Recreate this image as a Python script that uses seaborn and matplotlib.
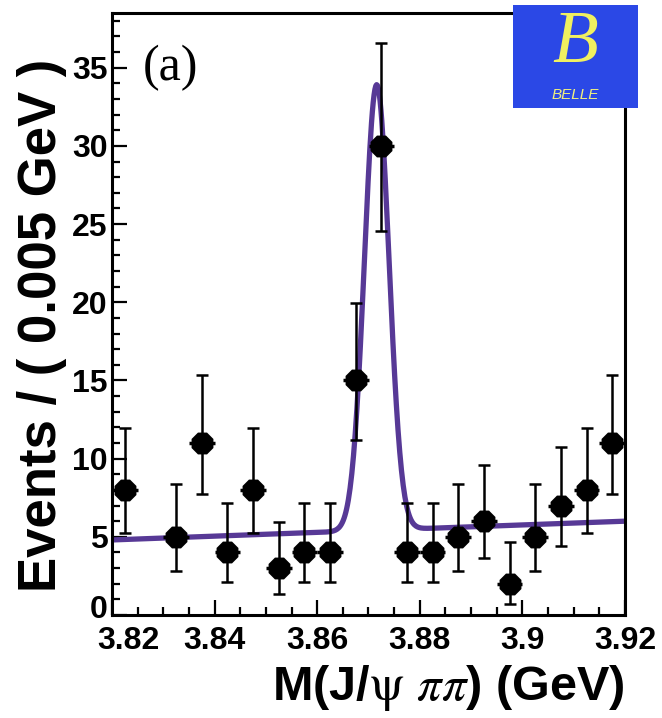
import matplotlib.pyplot as plt
import matplotlib.transforms as mtransforms
import numpy as np
import seaborn as sns

# bin centres (GeV) and event counts, 0.005 GeV bins
bin_centres = [3.8225, 3.8275, 3.8325, 3.8375, 3.8425, 3.8475, 3.8525, 3.8575, 3.8625, 3.8675,
               3.8725, 3.8775, 3.8825, 3.8875, 3.8925, 3.8975, 3.9025, 3.9075, 3.9125, 3.9175]
counts = [8, 0, 5, 11, 4, 8, 3, 4, 4, 15, 30, 4, 4, 5, 6, 2, 5, 7, 8, 11]
# asymmetric poisson errors
err_lo = [2.76, 0.0, 2.16, 3.28, 1.91, 2.76, 1.63, 1.91, 1.91, 3.83,
          5.45, 1.91, 1.91, 2.16, 2.38, 1.29, 2.16, 2.58, 2.76, 3.28]
err_hi = [3.95, 1.84, 3.38, 4.38, 3.16, 3.95, 2.92, 3.16, 3.16, 4.93,
          6.55, 3.16, 3.16, 3.38, 3.58, 2.64, 3.38, 3.77, 3.95, 4.38]
half_bin = 0.0025

# fit: gaussian signal on a linear background
peak_mean = 3.8716
peak_sigma = 0.0024
peak_amp = 28.5
bkg_at_lo = 4.8
bkg_slope = 12.0

x_ticks = [3.82, 3.84, 3.86, 3.88, 3.90, 3.92]
x_ticklabels = ['3.82', '3.84', '3.86', '3.88', '3.9', '3.92']
y_ticks = [0, 5, 10, 15, 20, 25, 30, 35]

sns.set_theme(style="ticks")
plt.rcParams['font.family'] = ['Liberation Sans', 'DejaVu Sans']
plt.rcParams['mathtext.fontset'] = 'stix'
for key in ['text.color', 'axes.labelcolor', 'xtick.color', 'ytick.color', 'axes.edgecolor']:
    plt.rcParams[key] = 'black'

fig = plt.figure(figsize=(6.62, 7.18), dpi=100)
ax = fig.add_axes([112 / 662, 1 - 615 / 718, 513 / 662, 602 / 718])

x = np.array(bin_centres)
y = np.array(counts)
lo = np.array(err_lo)
hi = np.array(err_hi)
keep = y > 0

# fit curve
xs = np.linspace(3.82, 3.92, 600)
fit = bkg_at_lo + bkg_slope * (xs - 3.82) + peak_amp * np.exp(-0.5 * ((xs - peak_mean) / peak_sigma) ** 2)
sns.lineplot(x=xs, y=fit, color='#573996', linewidth=3.8, ax=ax, zorder=2)

# data points
ax.errorbar(x[keep], y[keep], yerr=[lo[keep], hi[keep]], fmt='none', ecolor='black',
            elinewidth=1.8, capsize=4.5, capthick=1.8, zorder=3)
ax.errorbar(x[keep], y[keep], xerr=half_bin, fmt='none', ecolor='black',
            elinewidth=2.5, capsize=0, zorder=3)
sns.scatterplot(x=x[keep], y=y[keep], marker='8', s=290, color='black',
                edgecolor='black', linewidth=0, ax=ax, zorder=4)

ax.set_xlim(3.82, 3.92)
ax.set_ylim(0, 38.5)
ax.set_xticks(x_ticks)
ax.set_xticklabels(x_ticklabels)
ax.set_yticks(y_ticks)
ax.set_xticks(np.arange(3.82, 3.9201, 0.005), minor=True)
ax.set_yticks(np.arange(0, 38.5, 1), minor=True)
ax.tick_params(which='both', direction='in', top=False, right=False, width=1.6, color='black')
ax.tick_params(which='major', length=11, labelsize=23)
ax.tick_params(which='minor', length=5.5)
ax.tick_params(axis='x', pad=8)
ax.tick_params(axis='y', pad=3)
for lab in ax.get_xticklabels() + ax.get_yticklabels():
    lab.set_fontweight('bold')
# keep the corner labels apart, as ROOT does
ax.get_xticklabels()[0].set_transform(ax.get_xticklabels()[0].get_transform() +
                                      mtransforms.ScaledTranslation(16 / 100, 0, fig.dpi_scale_trans))
ax.get_yticklabels()[0].set_transform(ax.get_yticklabels()[0].get_transform() +
                                      mtransforms.ScaledTranslation(0, 9 / 100, fig.dpi_scale_trans))
for sp in ax.spines.values():
    sp.set_linewidth(2.2)
    sp.set_color('black')

fig.text(42 / 662, 1 - 325 / 718, 'Events / ( 0.005 GeV )', rotation=90,
         fontsize=38, fontweight='bold', ha='center', va='center')
fig.text(625 / 662, 1 - 688 / 718, r'M(J/$\mathrm{\psi}$ $\pi\pi$) (GeV)',
         fontsize=35, fontweight='bold', ha='right', va='center')

ax.text(143 / 662, 1 - 68 / 718, '(a)', transform=fig.transFigure,
        fontsize=36, family='Liberation Serif', ha='left', va='center')

# Belle logo
logo = fig.add_axes([513 / 662, 1 - 108 / 718, 125 / 662, 103 / 718])
logo.set_facecolor('#2b48e6')
logo.set_xticks([])
logo.set_yticks([])
for sp in logo.spines.values():
    sp.set_visible(False)
logo.text(0.5, 0.62, 'B', fontsize=54, family='Liberation Serif', style='italic',
          color='#f0f060', ha='center', va='center', transform=logo.transAxes)
logo.text(0.5, 0.13, 'BELLE', fontsize=11, style='italic', color='#f0f080',
          ha='center', va='center', transform=logo.transAxes)

ax.set_xlabel('')
ax.set_ylabel('')
fig.savefig('out.png', dpi=100)
